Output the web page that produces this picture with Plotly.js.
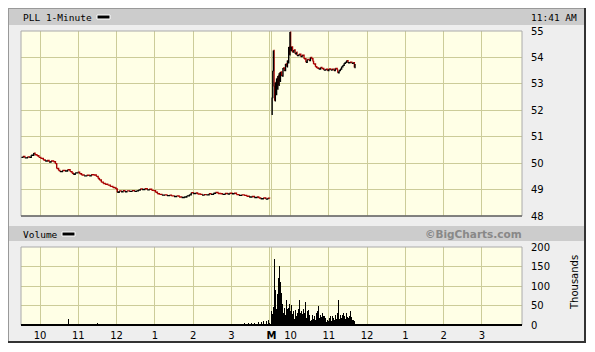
<!DOCTYPE html>
<html><head><meta charset="utf-8">
<script src="https://cdn.plot.ly/plotly-3.0.1.min.js"></script>
<style>html,body{margin:0;padding:0;background:#fff}#chart{width:595px;height:352px}</style>
</head><body><div id="chart"></div>
<script>
// ---------- DATA ----------
const day1Times = ["09:30","09:33","09:36","09:40","09:43","09:46","09:50","09:52","09:55","09:58","10:01","10:05","10:08","10:11","10:14","10:17","10:21","10:24","10:26","10:29","10:31","10:35","10:39","10:43","10:47","10:50","10:52","10:55","10:59","11:02","11:05","11:09","11:13","11:17","11:20","11:24","11:28","11:31","11:33","11:36","11:39","11:42","11:46","11:50","11:54","11:57","11:59","12:01","12:04","12:07","12:10","12:13","12:16","12:20","12:24","12:28","12:31","12:34","12:37","12:40","12:44","12:48","12:51","12:55","12:58","13:01","13:04","13:07","13:11","13:15","13:19","13:23","13:26","13:30","13:34","13:38","13:42","13:46","13:50","13:54","13:57","14:00","14:04","14:07","14:11","14:14","14:17","14:21","14:25","14:28","14:32","14:35","14:39","14:43","14:46","14:50","14:54","14:57","15:01","15:04","15:08","15:12","15:16","15:20","15:24","15:28","15:32","15:36","15:40","15:43","15:46","15:50","15:54","15:57","16:00"];
const day1Prices = [50.22,50.25,50.20,50.23,50.22,50.30,50.38,50.32,50.28,50.22,50.18,50.12,50.08,50.10,50.04,50.08,50.05,49.98,49.80,49.72,49.68,49.72,49.70,49.75,49.68,49.62,49.58,49.63,49.66,49.60,49.55,49.52,49.54,49.52,49.56,49.55,49.50,49.42,49.36,49.28,49.23,49.20,49.17,49.12,49.08,49.06,49.02,48.90,48.95,48.92,48.96,48.92,48.95,48.93,48.96,48.93,48.95,48.98,49.02,49.00,49.03,48.99,49.01,48.97,48.96,48.90,48.84,48.82,48.79,48.80,48.77,48.79,48.76,48.74,48.76,48.72,48.70,48.72,48.76,48.80,48.88,48.85,48.87,48.83,48.82,48.79,48.81,48.80,48.84,48.82,48.86,48.89,48.85,48.84,48.82,48.85,48.83,48.86,48.84,48.86,48.81,48.78,48.80,48.78,48.75,48.72,48.74,48.70,48.72,48.68,48.65,48.68,48.64,48.67,48.66];

const day2Times = ["09:30","09:31","09:32","09:33","09:34","09:35","09:36","09:37","09:38","09:39","09:40","09:41","09:42","09:43","09:44","09:46","09:48","09:50","09:52","09:54","09:55","09:56","09:57","09:58","09:59","10:00","10:01","10:03","10:05","10:07","10:09","10:10","10:13","10:16","10:18","10:21","10:24","10:26","10:29","10:31","10:33","10:35","10:36","10:39","10:41","10:44","10:47","10:49","10:52","10:55","10:58","11:00","11:03","11:05","11:08","11:10","11:13","11:14","11:16","11:18","11:20","11:22","11:24","11:26","11:28","11:30","11:33","11:36","11:38","11:40","11:41"];
const day2Prices = [51.85,52.48,53.50,54.26,52.90,52.36,53.05,52.60,53.20,52.80,53.30,52.95,53.40,53.10,53.45,53.30,53.60,53.50,53.75,53.65,53.88,53.80,54.39,54.10,54.96,54.26,54.40,54.20,54.28,54.14,54.20,54.07,54.12,54.03,54.08,53.95,53.82,53.92,53.88,54.00,53.95,53.85,53.75,53.65,53.60,53.56,53.62,53.58,53.52,53.55,53.50,53.56,53.52,53.55,53.50,53.58,53.52,53.42,53.50,53.56,53.65,53.70,53.78,53.82,53.88,53.80,53.82,53.78,53.80,53.62,53.75];

// volume in thousands
const day1VolTimes = ["10:44","11:26","11:30","11:33","11:57","13:29","13:44","14:00","14:21","14:37","15:08","15:14","15:21","15:27","15:32","15:36","15:42","15:47","15:50","15:55","15:58","16:00"];
const day1Vol = [15,3,4,2,2,2,3,1,2,1,3,3,4,5,6,5,7,8,11,9,12,6];
const day2VolStart = "09:30";
const day2Vol = [35,20,28,45,60,168,90,70,40,57,80,120,151,95,111,70,82,55,48,30,38,43,25,50,65,40,43,30,55,69,35,45,52,28,20,35,15,25,39,22,35,30,18,40,65,30,20,35,28,22,40,48,30,60,25,18,35,20,39,15,25,10,164,12,8,26,15,10,22,14,30,20,35,25,48,18,12,26,20,15,30,22,12,22,10,18,8,26,14,10,8,18,12,22,10,22,14,18,6,12,10,26,15,10,30,65,15,10,26,12,18,26,20,30,12,22,15,10,32,20,14,18,22,10,35,20,8,12,13,6,9,4];

const priceTicks = [48,49,50,51,52,53,54,55];
const volTicks = [0,50,100,150,200];
const hourTimes = ["10:00","11:00","12:00","13:00","14:00","15:00"];
const hourLabels = ["10","11","12","1","2","3"];
const symbolLabel = "PLL 1-Minute";
const timeLabel = "11:41 AM";
const dayMark = "M";

// ---------- helpers ----------
const W = 595, H = 352;
const px = x => x / W, py = y => 1 - y / H;
const toMin = t => { const [h, m] = t.split(":").map(Number); return h * 60 + m - 570; };
const DAY2 = 393;            // session offset of day 2 on the x scale (minutes)
const d1 = t => toMin(t);
const d2 = t => DAY2 + toMin(t);

// up/down coloured step segments
function segs(xs, ys) {
  const up = {x: [], y: []}, dn = {x: [], y: []};
  let last = dn;
  for (let i = 1; i < xs.length; i++) {
    const tgt = ys[i] > ys[i-1] ? up : (ys[i] < ys[i-1] ? dn : last);
    tgt.x.push(xs[i-1], xs[i], null); tgt.y.push(ys[i-1], ys[i], null);
    last = tgt;
  }
  return {up, dn};
}
const s1 = segs(day1Times.map(d1), day1Prices);
const s2 = segs(day2Times.map(d2), day2Prices);
const upX = s1.up.x.concat(s2.up.x), upY = s1.up.y.concat(s2.up.y);
const dnX = s1.dn.x.concat(s2.dn.x), dnY = s1.dn.y.concat(s2.dn.y);

const v2x = day2Vol.map((v, i) => d2(day2VolStart) + i);
const volX = day1VolTimes.map(d1).concat(v2x);
const volY = day1Vol.concat(day2Vol);

const RED = "#a80000";
const traces = [
  {type: "scatter", mode: "lines", x: dnX, y: dnY, xaxis: "x", yaxis: "y",
   line: {color: RED, width: 1.4, shape: "hv"}, connectgaps: false, hoverinfo: "skip"},
  {type: "scatter", mode: "lines", x: upX, y: upY, xaxis: "x", yaxis: "y",
   line: {color: "#000000", width: 1.4, shape: "hv"}, connectgaps: false, hoverinfo: "skip"},
  {type: "bar", x: volX, y: volY, xaxis: "x2", yaxis: "y2", width: 1.4,
   marker: {color: "#000000", line: {width: 0}}, hoverinfo: "skip"}
];

const gridVals = hourTimes.map(d1).concat([390, DAY2], hourTimes.map(d2));
const gridText = hourLabels.concat(["", "<b>" + dayMark + "</b>"], hourLabels);

const GRID = "#cccc99";
const tickFont = {family: "DejaVu Sans, Verdana, sans-serif", size: 10, color: "#000"};
const monoFont = {family: "DejaVu Sans Mono, monospace", size: 9.5, color: "#000"};
const xBase = {range: [0, 786], domain: [px(21), px(522)], tickmode: "array", tickvals: gridVals,
  showgrid: true, gridcolor: GRID, gridwidth: 1, zeroline: false, showline: false, fixedrange: true};

const layout = {
  width: W, height: H, margin: {l: 0, r: 0, t: 0, b: 0},
  paper_bgcolor: "#ffffff", plot_bgcolor: "rgba(0,0,0,0)", showlegend: false, bargap: 0,
  xaxis: Object.assign({}, xBase, {anchor: "y", showticklabels: false, ticks: ""}),
  xaxis2: Object.assign({}, xBase, {anchor: "y2", ticktext: gridText, ticks: "outside", ticklen: 1,
    tickcolor: "rgba(0,0,0,0)", tickfont: tickFont}),
  yaxis: {anchor: "x", domain: [py(216), py(31)], range: [48, 55], side: "right", tickmode: "array",
    tickvals: priceTicks, showgrid: true, gridcolor: GRID, zeroline: false, showline: false,
    ticks: "outside", ticklen: 6, tickcolor: "rgba(0,0,0,0)", tickfont: tickFont, fixedrange: true},
  yaxis2: {anchor: "x2", domain: [py(325), py(247)], range: [0, 200], side: "right", tickmode: "array",
    tickvals: volTicks, showgrid: true, gridcolor: GRID, zeroline: false, showline: false,
    ticks: "outside", ticklen: 6, tickcolor: "rgba(0,0,0,0)", tickfont: tickFont, fixedrange: true},
  shapes: [
    // outer panel
    {type: "rect", xref: "paper", yref: "paper", x0: px(8), x1: px(585), y0: py(342), y1: py(8),
     fillcolor: "#eeeeee", line: {width: 0}, layer: "below"},
    {type: "rect", xref: "paper", yref: "paper", x0: px(8), x1: px(585), y0: py(25), y1: py(8),
     fillcolor: "#cccccc", line: {width: 0}, layer: "below"},
    {type: "rect", xref: "paper", yref: "paper", x0: px(8), x1: px(585), y0: py(241), y1: py(226),
     fillcolor: "#cccccc", line: {width: 0}, layer: "below"},
    // plot backgrounds
    {type: "rect", xref: "paper", yref: "paper", x0: px(21), x1: px(522), y0: py(216), y1: py(31),
     fillcolor: "#ffffe6", line: {width: 0}, layer: "below"},
    {type: "rect", xref: "paper", yref: "paper", x0: px(21), x1: px(522), y0: py(325), y1: py(247),
     fillcolor: "#ffffe6", line: {width: 0}, layer: "below"},
    // frame edges
    {type: "line", xref: "paper", yref: "paper", x0: px(8), x1: px(585), y0: py(8.5), y1: py(8.5), line: {color: "#999999", width: 1}},
    {type: "line", xref: "paper", yref: "paper", x0: px(8.5), x1: px(8.5), y0: py(342), y1: py(8), line: {color: "#999999", width: 1}},
    {type: "line", xref: "paper", yref: "paper", x0: px(585), x1: px(585), y0: py(342), y1: py(8), line: {color: "#333333", width: 2}},
    {type: "line", xref: "paper", yref: "paper", x0: px(8), x1: px(586), y0: py(342), y1: py(342), line: {color: "#333333", width: 2}},
    // plot borders
    {type: "rect", xref: "paper", yref: "paper", x0: px(21), x1: px(522), y0: py(216), y1: py(31), line: {color: "#aaaaaa", width: 1}},
    {type: "line", xref: "paper", yref: "paper", x0: px(21), x1: px(522), y0: py(216), y1: py(216), line: {color: "#666666", width: 1.5}},
    {type: "rect", xref: "paper", yref: "paper", x0: px(21), x1: px(522), y0: py(325), y1: py(247), line: {color: "#aaaaaa", width: 1}},
    {type: "line", xref: "paper", yref: "paper", x0: px(21), x1: px(522), y0: py(325), y1: py(325), line: {color: "#000000", width: 2}},
    // legend keys
    {type: "rect", xref: "paper", yref: "paper", x0: px(97), x1: px(110), y0: py(19), y1: py(15),
     fillcolor: "#000000", line: {color: "#ffffff", width: 1}},
    {type: "rect", xref: "paper", yref: "paper", x0: px(62), x1: px(75), y0: py(236), y1: py(232),
     fillcolor: "#000000", line: {color: "#ffffff", width: 1}}
  ],
  annotations: [
    {xref: "paper", yref: "paper", x: px(21), y: py(17), xanchor: "left", yanchor: "middle", showarrow: false,
     text: symbolLabel, font: monoFont},
    {xref: "paper", yref: "paper", x: px(579), y: py(17), xanchor: "right", yanchor: "middle", showarrow: false,
     text: timeLabel, font: monoFont},
    {xref: "paper", yref: "paper", x: px(21), y: py(234), xanchor: "left", yanchor: "middle", showarrow: false,
     text: "Volume", font: monoFont},
    {xref: "paper", yref: "paper", x: px(524), y: py(234), xanchor: "right", yanchor: "middle", showarrow: false,
     text: "<b>©BigCharts.com</b>", font: {family: "DejaVu Sans, Verdana, sans-serif", size: 10.5, color: "#888888"}},
    {xref: "paper", yref: "paper", x: px(574), y: py(283), xanchor: "center", yanchor: "middle", showarrow: false,
     textangle: -90, text: "Thousands", font: {family: "DejaVu Sans, Verdana, sans-serif", size: 10, color: "#000"}}
  ]
};

Plotly.newPlot("chart", traces, layout, {staticPlot: true, displayModeBar: false});
</script></body></html>
